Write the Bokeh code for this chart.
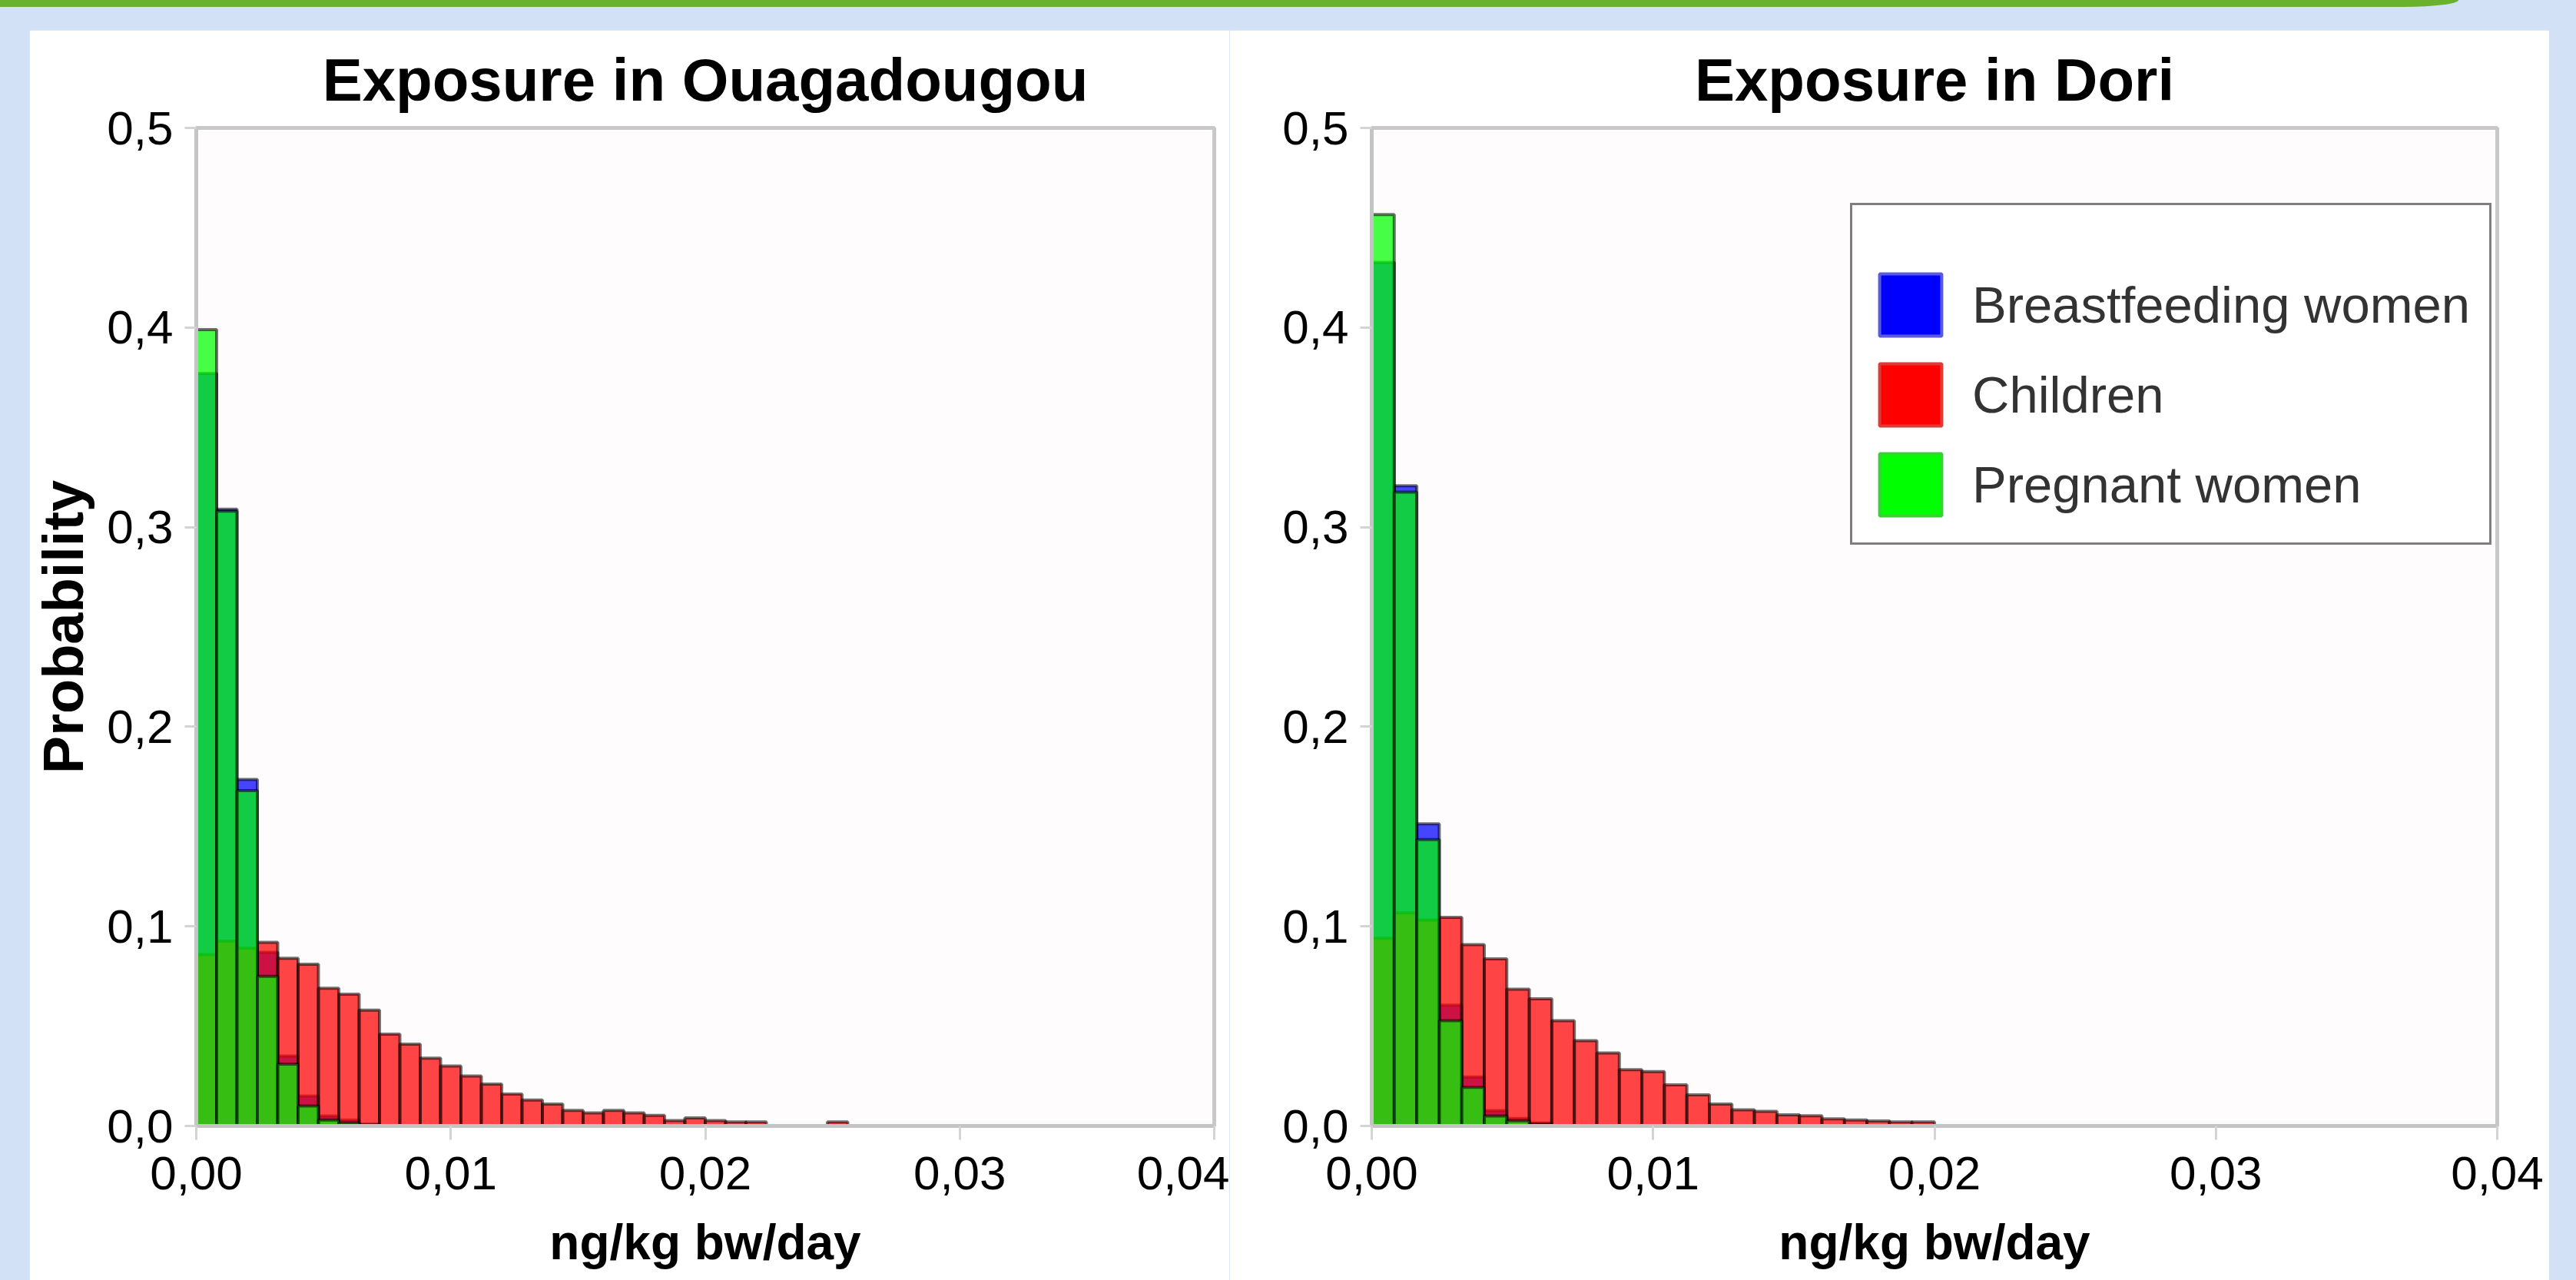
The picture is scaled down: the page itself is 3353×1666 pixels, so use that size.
from bokeh.plotting import figure
from bokeh.models import (Range1d, FixedTicker, CustomJSTickFormatter, ColumnDataSource,
                          Legend, LegendItem, Spacer)
from bokeh.layouts import row, column
from bokeh.embed import file_html
from bokeh.resources import INLINE

# ---------------- data (probability per bin of 0.0008 ng/kg bw/day) ----------------
BIN_WIDTH = 0.0008
x_ticks = [0.0, 0.01, 0.02, 0.03, 0.04]
y_ticks = [0.0, 0.1, 0.2, 0.3, 0.4, 0.5]
groups = ["Breastfeeding women", "Children", "Pregnant women"]

ouaga_breastfeeding = [0.377, 0.309, 0.1736, 0.087, 0.035, 0.015, 0.005, 0.003, 0.001]
ouaga_children = [0.0858, 0.0926, 0.089, 0.092, 0.084, 0.081, 0.069, 0.066, 0.058, 0.046,
                  0.041, 0.034, 0.030, 0.025, 0.021, 0.016, 0.013, 0.011, 0.0078, 0.0065,
                  0.0078, 0.0065, 0.0053, 0.0027, 0.004, 0.0027, 0.002, 0.002, 0.0, 0.0,
                  0.0, 0.002]
ouaga_pregnant = [0.399, 0.308, 0.168, 0.075, 0.031, 0.010, 0.003, 0.0015, 0.0005]

dori_breastfeeding = [0.4326, 0.3207, 0.1514, 0.0605, 0.0245, 0.0077, 0.0038, 0.0015]
dori_children = [0.094, 0.1067, 0.1032, 0.1045, 0.0908, 0.0837, 0.0685, 0.0637, 0.0527, 0.0427,
                 0.0366, 0.0282, 0.0272, 0.0206, 0.0156, 0.0110, 0.0081, 0.0073, 0.0056, 0.0051,
                 0.0036, 0.003, 0.0025, 0.002, 0.002]
dori_pregnant = [0.4566, 0.3176, 0.1435, 0.0527, 0.0193, 0.005, 0.0026, 0.001]

# ---------------- styles ----------------
FONT = "Liberation Sans"
BG_BLUE = "#d2e1f5"
BAND_GREEN = "#6ab22e"
FILLS = {"Breastfeeding women": "#0000ff", "Children": "#ff0000", "Pregnant women": "#00ff00"}
SWATCH_LINES = {"Breastfeeding women": "#5a5ae0", "Children": "#dd3a3a", "Pregnant women": "#3ad03a"}
FIG_H = 1627


def hist_source(values):
    left, right, top = [], [], []
    for i, v in enumerate(values):
        if v > 0:
            left.append(i * BIN_WIDTH)
            right.append((i + 1) * BIN_WIDTH)
            top.append(v)
    return ColumnDataSource(dict(left=left, right=right, top=top))


def make_panel(title, series, width, border_left, border_right, y_label):
    p = figure(width=width, height=FIG_H, output_backend="svg", toolbar_location=None,
               x_range=Range1d(0, 0.04), y_range=Range1d(0, 0.5),
               min_border_left=border_left, min_border_right=border_right,
               min_border_top=119, min_border_bottom=201)
    p.background_fill_color = "#fffcfd"
    p.border_fill_color = "white"
    p.outline_line_color = "#c8c8c8"
    p.outline_line_width = 5
    p.xgrid.visible = False
    p.ygrid.visible = False

    p.title.text = title
    p.title.align = "center"
    p.title.text_font = FONT
    p.title.text_font_size = "78px"
    p.title.text_font_style = "bold"
    p.title.text_color = "black"
    p.title.standoff = 37

    p.xaxis.ticker = FixedTicker(ticks=x_ticks)
    p.yaxis.ticker = FixedTicker(ticks=y_ticks)
    p.xaxis.formatter = CustomJSTickFormatter(code="return tick.toFixed(2).replace('.', ',')")
    p.yaxis.formatter = CustomJSTickFormatter(code="return tick.toFixed(1).replace('.', ',')")
    for ax in (p.xaxis, p.yaxis):
        ax.axis_line_color = "#c4c4c4"
        ax.axis_line_width = 5
        ax.major_tick_line_color = "#d4d4d4"
        ax.major_tick_line_width = 3
        ax.major_tick_in = 0
        ax.minor_tick_line_color = None
        ax.major_label_text_font = FONT
        ax.major_label_text_font_size = "62px"
        ax.major_label_text_color = "black"
        ax.axis_label_text_font = FONT
        ax.axis_label_text_font_style = "bold"
        ax.axis_label_text_color = "black"
    p.xaxis.major_tick_out = 18
    p.yaxis.major_tick_out = 15
    p.xaxis.major_label_standoff = 22
    p.yaxis.major_label_standoff = 15
    p.xaxis.axis_label = "ng/kg bw/day"
    p.xaxis.axis_label_text_font_size = "64px"
    p.xaxis.axis_label_standoff = 30
    if y_label:
        p.yaxis.axis_label = y_label
        p.yaxis.axis_label_text_font_size = "74px"
        p.yaxis.axis_label_standoff = 12

    for name in groups:  # drawn blue, then red, then green on top
        p.quad(left="left", right="right", top="top", bottom=0,
               source=hist_source(series[name]),
               fill_color=FILLS[name], fill_alpha=0.73,
               line_color="black", line_alpha=0.55, line_width=4)
    return p


p1 = make_panel("Exposure in Ouagadougou",
                {"Breastfeeding women": ouaga_breastfeeding, "Children": ouaga_children,
                 "Pregnant women": ouaga_pregnant},
                1562, 214, 20, "Probability")
p2 = make_panel("Exposure in Dori",
                {"Breastfeeding women": dori_breastfeeding, "Children": dori_children,
                 "Pregnant women": dori_pregnant},
                1718, 185, 68, None)

# legend swatches: solid colours, placeholder (NaN) geometry so nothing is drawn in the plot
items = []
nan = float("nan")
for name in groups:
    r = p2.quad(left=[nan], right=[nan], top=[nan], bottom=[nan],
                fill_color=FILLS[name], fill_alpha=1.0,
                line_color=SWATCH_LINES[name], line_width=4)
    items.append(LegendItem(label=name, renderers=[r]))
legend = Legend(items=items, location=(623, 756), title=" ", title_text_font_size="46px",
                title_standoff=0, padding=25, spacing=16, glyph_width=101, glyph_height=101,
                label_standoff=30, label_height=101, label_text_font=FONT,
                label_text_font_size="67px", label_text_color="#333333",
                border_line_color="black", border_line_width=3,
                background_fill_color="white", background_fill_alpha=1.0)
p2.add_layout(legend)

band = row(Spacer(width=3200, height=9, styles={"background-color": BAND_GREEN,
                                               "border-bottom-right-radius": "70px 9px"}),
           Spacer(width=153, height=9))
root = column(band,
              Spacer(width=3353, height=30),
              row(Spacer(width=38, height=FIG_H), p1, p2, Spacer(width=35, height=FIG_H)),
              styles={"background-color": BG_BLUE})

open("out.html", "w").write(file_html(root, INLINE))
